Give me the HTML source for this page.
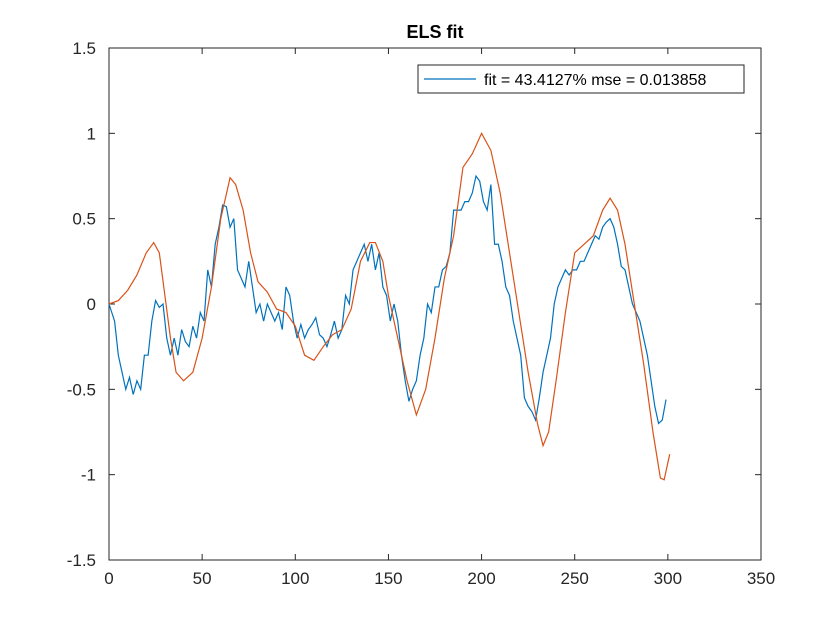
<!DOCTYPE html>
<html><head><meta charset="utf-8"><style>
body{margin:0;background:#fff;}
svg text{font-family:"Liberation Sans",Arial,sans-serif;}
</style></head><body>
<svg id="chart" width="840" height="630">
<rect x="0" y="0" width="840" height="630" fill="#fff"/>
<g id="plot"></g>
</svg>
<script>
const xTicks=[0,50,100,150,200,250,300,350];
const yTicks=[-1.5,-1,-0.5,0,0.5,1,1.5];
const yTickLabels=["-1.5","-1","-0.5","0","0.5","1","1.5"];
const fitX=[0,5,10,15,20,24,27,30,33,36,40,45,50,55,60,65,68,72,76,80,85,90,95,100,105,110,115,120,125,130,135,140,143,147,150,155,160,165,170,175,180,185,190,195,200,205,210,215,220,225,230,233,236,240,245,250,255,260,265,269,273,277,282,287,292,296,298,301];
const fitY=[0,0.02,0.08,0.17,0.3,0.36,0.3,0.05,-0.2,-0.4,-0.45,-0.4,-0.2,0.1,0.5,0.74,0.7,0.55,0.3,0.13,0.07,-0.03,-0.05,-0.13,-0.3,-0.33,-0.25,-0.18,-0.15,-0.03,0.25,0.36,0.36,0.25,0.05,-0.2,-0.45,-0.65,-0.5,-0.2,0.15,0.4,0.8,0.88,1.0,0.9,0.65,0.3,-0.05,-0.4,-0.7,-0.83,-0.75,-0.45,-0.05,0.3,0.35,0.4,0.55,0.62,0.55,0.35,0.0,-0.35,-0.75,-1.02,-1.03,-0.88];
const measX=[];for(let i=0;i<=150;i++)measX.push(i*2+(i===150?1:0)+(i>0&&i<150?1:0));
const measY=[0,-0.1,-0.3,-0.4,-0.5,-0.43,-0.53,-0.45,-0.5,-0.3,-0.3,-0.1,0.02,-0.02,0.0,-0.2,-0.3,-0.2,-0.3,-0.15,-0.22,-0.25,-0.13,-0.2,-0.05,-0.1,0.2,0.1,0.35,0.45,0.58,0.57,0.45,0.5,0.2,0.15,0.1,0.25,0.1,-0.05,0.0,-0.1,0.0,-0.05,-0.1,-0.05,-0.15,0.1,0.05,-0.1,-0.2,-0.12,-0.2,-0.15,-0.12,-0.08,-0.18,-0.2,-0.25,-0.18,-0.1,-0.2,-0.15,0.05,0.0,0.2,0.25,0.3,0.35,0.25,0.35,0.2,0.3,0.1,0.05,-0.1,0.0,-0.1,-0.3,-0.45,-0.57,-0.5,-0.45,-0.3,-0.2,0.0,-0.05,0.1,0.1,0.2,0.22,0.3,0.55,0.55,0.55,0.6,0.6,0.65,0.75,0.72,0.6,0.55,0.7,0.35,0.35,0.25,0.1,0.05,-0.1,-0.2,-0.3,-0.55,-0.6,-0.63,-0.68,-0.55,-0.4,-0.3,-0.2,0.0,0.1,0.15,0.2,0.17,0.2,0.2,0.25,0.25,0.3,0.35,0.4,0.38,0.45,0.48,0.5,0.45,0.35,0.22,0.2,0.1,0.0,-0.05,-0.1,-0.2,-0.3,-0.45,-0.6,-0.7,-0.68,-0.56];
const L=109,R=761,T=48,B=560;
const sx=v=>L+(v-0)/(350-0)*(R-L);
const sy=v=>B-(v+1.5)/3*(B-T);
const NS="http://www.w3.org/2000/svg";
const g=document.getElementById('plot');
function mk(t,a,txt){const e=document.createElementNS(NS,t);for(const k in a)e.setAttribute(k,a[k]);if(txt!==undefined)e.textContent=txt;g.appendChild(e);return e;}
let ax=mk('rect',{x:L,y:T,width:R-L,height:B-T,fill:'#fff',stroke:'#262626','stroke-width':1});


xTicks.forEach(v=>{const x=sx(v);
mk('line',{x1:x,y1:B,x2:x,y2:B-6,stroke:'#262626'});mk('line',{x1:x,y1:T,x2:x,y2:T+6,stroke:'#262626'});
const t=mk('text',{x:x,y:B+24,'text-anchor':'middle','font-size':17,fill:'#262626'},String(v));

});
yTicks.forEach((v,i)=>{const y=sy(v);
mk('line',{x1:L,y1:y,x2:L+6,y2:y,stroke:'#262626'});mk('line',{x1:R,y1:y,x2:R-6,y2:y,stroke:'#262626'});
const t=mk('text',{x:L-13,y:y+6,'text-anchor':'end','font-size':17,fill:'#262626'},yTickLabels[i]);

});
let p1=mk('polyline',{points:measX.map((x,i)=>sx(x)+','+sy(measY[i])).join(' '),fill:'none',stroke:'#0072BD','stroke-width':1.2});


let p2=mk('polyline',{points:fitX.map((x,i)=>sx(x)+','+sy(fitY[i])).join(' '),fill:'none',stroke:'#D95319','stroke-width':1.2});


let ti=mk('text',{x:435,y:38,'text-anchor':'middle','font-size':18,'font-weight':'bold',fill:'#000'},'ELS fit');


let lb=mk('rect',{x:418,y:65,width:326,height:28,fill:'#fff',stroke:'#262626'});


mk('line',{x1:424,y1:79,x2:476,y2:79,stroke:'#0072BD','stroke-width':1.2});
let lt=mk('text',{x:484,y:85,'font-size':16,fill:'#000'},'fit = 43.4127% mse = 0.013858');


</script>
</body></html>
